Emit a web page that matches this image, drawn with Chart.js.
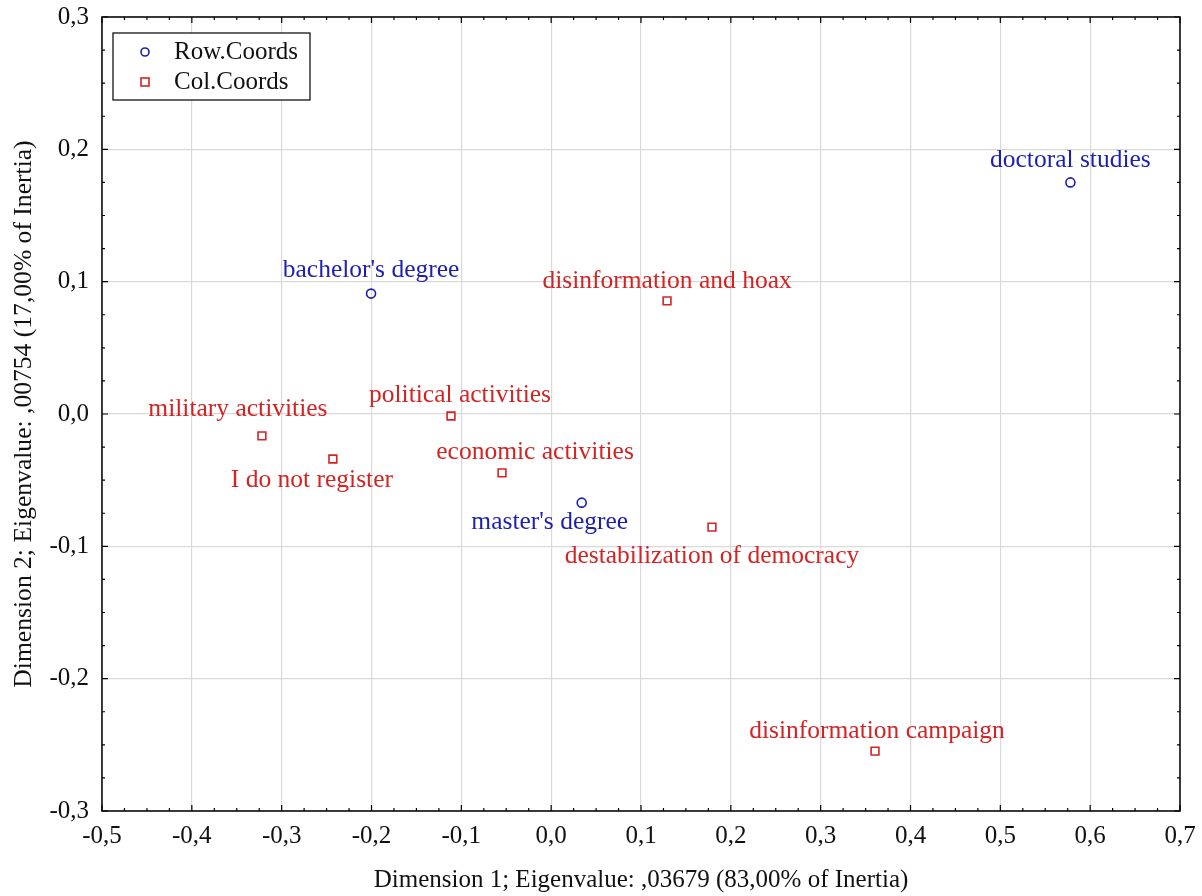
<!DOCTYPE html>
<html>
<head>
<meta charset="utf-8">
<script src="https://cdn.jsdelivr.net/npm/chart.js@4.4.1/dist/chart.umd.min.js"></script>
<style>
  html, body { margin: 0; padding: 0; background: #fff; }
  #wrap { width: 1202px; height: 896px; }
</style>
</head>
<body>
<div id="wrap"><canvas id="chart" width="1202" height="896"></canvas></div>
<script>
// row points (education)
const rowLabels = ["bachelor's degree", "master's degree", 'doctoral studies'];
const rowX = [-0.2005, 0.034, 0.578];
const rowY = [0.091, -0.067, 0.175];

// column points (perceived threats)
const colLabels = [
  'disinformation and hoax', 'political activities', 'military activities',
  'I do not register', 'economic activities', 'destabilization of democracy',
  'disinformation campaign'
];
const colX = [0.129, -0.1115, -0.322, -0.243, -0.0547, 0.179, 0.3605];
const colY = [0.0855, -0.0015, -0.0165, -0.034, -0.0445, -0.0855, -0.2548];

const xTicks = [-0.5, -0.4, -0.3, -0.2, -0.1, 0.0, 0.1, 0.2, 0.3, 0.4, 0.5, 0.6, 0.7];
const yTicks = [-0.3, -0.2, -0.1, 0.0, 0.1, 0.2, 0.3];

// label offsets from the marker, in px (styling only)
const rowOffsets = [[0, -23], [-32, 20], [0, -22]];
const colOffsets = [[0, -20], [9, -21], [-24, -27], [-21, 21], [33, -21], [0, 29], [2, -20]];

const BLUE = '#1f1fae';
const RED = '#d32424';
const FONT = "'Liberation Serif', 'Times New Roman', serif";

const fmt = v => (Math.round(v * 10) / 10).toFixed(1).replace('.', ',');

const frameAndTicks = {
  id: 'frameAndTicks',
  afterDraw(chart) {
    const { ctx, chartArea: a, scales } = chart;
    ctx.save();
    ctx.strokeStyle = '#000';
    ctx.lineWidth = 1.5;
    ctx.strokeRect(a.left, a.top, a.right - a.left, a.bottom - a.top);
    ctx.lineWidth = 1.2;
    ctx.beginPath();
    for (let i = 0; i <= (xTicks.length - 1) * 4; i++) {
      const v = xTicks[0] + i * 0.025;
      const px = scales.x.getPixelForValue(v);
      const len = i % 4 === 0 ? 6 : 3;
      ctx.moveTo(px, a.bottom); ctx.lineTo(px, a.bottom - len);
      ctx.moveTo(px, a.top); ctx.lineTo(px, a.top + len);
    }
    for (let i = 0; i <= (yTicks.length - 1) * 4; i++) {
      const v = yTicks[0] + i * 0.025;
      const py = scales.y.getPixelForValue(v);
      const len = i % 4 === 0 ? 6 : 3;
      ctx.moveTo(a.left, py); ctx.lineTo(a.left + len, py);
      ctx.moveTo(a.right, py); ctx.lineTo(a.right - len, py);
    }
    ctx.stroke();
    ctx.restore();
  }
};

const pointLabels = {
  id: 'pointLabels',
  afterDatasetsDraw(chart) {
    const { ctx } = chart;
    ctx.save();
    ctx.font = '25.5px ' + FONT;
    ctx.textAlign = 'center';
    ctx.textBaseline = 'middle';
    const sets = [[rowLabels, rowOffsets, BLUE], [colLabels, colOffsets, RED]];
    sets.forEach(([labels, offs, color], di) => {
      const meta = chart.getDatasetMeta(di);
      ctx.fillStyle = color;
      meta.data.forEach((pt, i) => {
        ctx.fillText(labels[i], pt.x + offs[i][0], pt.y + offs[i][1]);
      });
    });
    ctx.restore();
  }
};

const boxLegend = {
  id: 'boxLegend',
  afterDraw(chart) {
    const { ctx, chartArea: a } = chart;
    const x0 = a.left + 11, y0 = a.top + 16;
    ctx.save();
    ctx.fillStyle = '#fff';
    ctx.fillRect(x0, y0, 197, 67);
    ctx.strokeStyle = '#000';
    ctx.lineWidth = 1.2;
    ctx.strokeRect(x0, y0, 197, 67);
    ctx.font = '25px ' + FONT;
    ctx.textBaseline = 'middle';
    ctx.fillStyle = '#111';
    ctx.fillText('Row.Coords', x0 + 61, y0 + 19);
    ctx.fillText('Col.Coords', x0 + 61, y0 + 49);
    ctx.lineWidth = 1.6;
    ctx.strokeStyle = BLUE;
    ctx.beginPath(); ctx.arc(x0 + 32, y0 + 19, 4, 0, Math.PI * 2); ctx.stroke();
    ctx.strokeStyle = RED;
    ctx.strokeRect(x0 + 28, y0 + 45, 8, 8);
    ctx.restore();
  }
};

new Chart(document.getElementById('chart'), {
  type: 'scatter',
  data: {
    datasets: [
      {
        label: 'Row.Coords',
        data: rowX.map((x, i) => ({ x, y: rowY[i] })),
        pointStyle: 'circle',
        pointRadius: 4.5,
        borderColor: BLUE,
        backgroundColor: 'rgba(0,0,0,0)',
        borderWidth: 1.6
      },
      {
        label: 'Col.Coords',
        data: colX.map((x, i) => ({ x, y: colY[i] })),
        pointStyle: 'rect',
        pointRadius: 5.5,
        borderColor: RED,
        backgroundColor: 'rgba(0,0,0,0)',
        borderWidth: 1.6
      }
    ]
  },
  options: {
    responsive: false,
    animation: false,
    layout: { padding: { top: 17, right: 22, left: 0, bottom: 0 } },
    plugins: {
      legend: { display: false },
      tooltip: { enabled: false }
    },
    scales: {
      x: {
        type: 'linear',
        min: -0.5, max: 0.7,
        afterBuildTicks: s => { s.ticks = xTicks.map(v => ({ value: v })); },
        afterFit: s => { s.height = 85; s.paddingLeft = 0; s.paddingRight = 0; },
        grid: { color: '#d9d9d9', lineWidth: 1.2, drawTicks: false },
        border: { display: false },
        ticks: {
          callback: v => fmt(v),
          color: '#111', padding: 10,
          font: { family: FONT, size: 25 },
          maxRotation: 0, autoSkip: false
        },
        title: {
          display: true,
          text: 'Dimension 1; Eigenvalue: ,03679 (83,00% of Inertia)',
          color: '#111',
          font: { family: FONT, size: 25 },
          padding: { top: 0, bottom: 1 }
        }
      },
      y: {
        type: 'linear',
        min: -0.3, max: 0.3,
        afterBuildTicks: s => { s.ticks = yTicks.map(v => ({ value: v })); },
        afterFit: s => { s.width = 102; s.paddingTop = 0; s.paddingBottom = 0; },
        grid: { color: '#d9d9d9', lineWidth: 1.2, drawTicks: false },
        border: { display: false },
        ticks: {
          callback: v => fmt(v),
          color: '#111', padding: 13,
          font: { family: FONT, size: 25 },
          autoSkip: false
        },
        title: {
          display: true,
          text: 'Dimension 2; Eigenvalue: ,00754 (17,00% of Inertia)',
          color: '#111',
          font: { family: FONT, size: 25.6 },
          padding: { top: 9, bottom: 0 }
        }
      }
    }
  },
  plugins: [frameAndTicks, pointLabels, boxLegend]
});
</script>
</body>
</html>
